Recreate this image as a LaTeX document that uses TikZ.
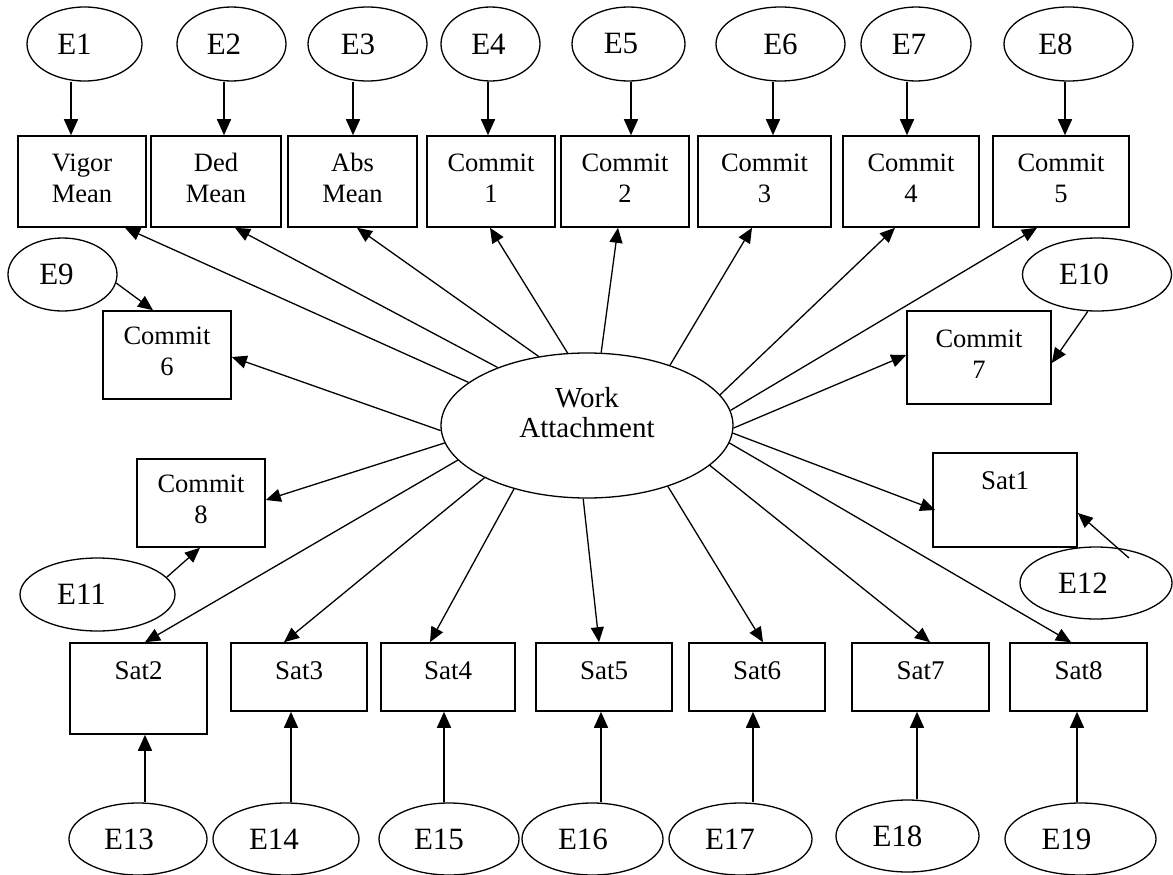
\documentclass[tikz,border=0pt]{standalone}
\usepackage{fontspec}
\setmainfont{Liberation Serif}
\usetikzlibrary{shapes.geometric,arrows.meta}

\begin{document}
\begin{tikzpicture}[x=1pt,y=-1pt,
  box/.style 2 args={draw, rectangle, line width=1.6pt, inner sep=0pt,
    minimum width=#1, minimum height=#2, align=center,
    font=\fontsize{26.5}{31}\selectfont, text height=49pt, text depth=8pt},
  sat/.style 2 args={draw, rectangle, line width=1.6pt, inner sep=0pt,
    minimum width=#1, minimum height=#2,
    font=\fontsize{27}{32}\selectfont, text height=19pt, text depth=15pt},
  err/.style 2 args={draw, ellipse, line width=1.3pt, inner sep=0pt,
    minimum width=#1, minimum height=74pt,
    font=\fontsize{31}{36}\selectfont, execute at begin node={\kern#2}},
  latent/.style={draw, ellipse, line width=1.3pt, inner sep=0pt,
    minimum width=292pt, minimum height=145pt, align=center,
    font=\fontsize{29}{30}\selectfont, text height=50pt, text depth=27pt},
  varr/.style={line width=1.6pt, -{Triangle[length=16pt,width=14pt]}},
  arr/.style={line width=1.3pt, -{Triangle[length=15pt,width=13pt]}}
]
\useasboundingbox (0,0) rectangle (1173,875);

% latent factor
\node[latent] (WA) at (587,425.5) {Work\\Attachment};

% indicators, top row
\node[box={128pt}{91pt}] (vigor) at (82,181.5)   {Vigor\\Mean};
\node[box={130pt}{91pt}] (ded)   at (216,181.5)  {Ded\\Mean};
\node[box={129pt}{91pt}] (abs)   at (352.5,181.5){Abs\\Mean};
\node[box={128pt}{91pt}] (c1)    at (491,181.5)  {Commit\\1};
\node[box={128pt}{91pt}] (c2)    at (625,181.5)  {Commit\\2};
\node[box={133pt}{91pt}] (c3)    at (764.5,181.5){Commit\\3};
\node[box={136pt}{91pt}] (c4)    at (911,181.5)  {Commit\\4};
\node[box={136pt}{91pt}] (c5)    at (1061,181.5) {Commit\\5};

% indicators at the sides
\node[box={128pt}{88pt}] (c6) at (167,355)   {Commit\\6};
\node[box={144pt}{93pt}] (c7) at (979,357.5) {Commit\\7};
\node[box={128pt}{88pt}] (c8) at (201,503)   {Commit\\8};
\node[sat={144pt}{94pt}, text depth=41pt] (sat1) at (1005,500) {Sat1};

% indicators, bottom row
\node[sat={137pt}{91pt}, text depth=38pt] (sat2) at (138.5,688.5) {Sat2};
\node[sat={136pt}{68pt}] (sat3) at (299,677)    {Sat3};
\node[sat={134pt}{68pt}] (sat4) at (448,677)    {Sat4};
\node[sat={136pt}{68pt}] (sat5) at (604,677)    {Sat5};
\node[sat={136pt}{68pt}] (sat6) at (757,677)    {Sat6};
\node[sat={137pt}{68pt}] (sat7) at (920.5,677)  {Sat7};
\node[sat={137pt}{68pt}] (sat8) at (1078.5,677) {Sat8};

% error terms
\node[err={115pt}{-20pt}] (E1) at (84.5,44)  {E1};
\node[err={109pt}{-15pt}] (E2) at (231.5,44) {E2};
\node[err={119pt}{-19pt}] (E3) at (367.5,44) {E3};
\node[err={99pt}{-4pt}]   (E4) at (490.5,44) {E4};
\node[err={113pt}{-15pt}] (E5) at (628.5,44) {E5};
\node[err={129pt}{0pt}]   (E6) at (780.5,44) {E6};
\node[err={110pt}{-14pt}] (E7) at (916,44)   {E7};
\node[err={129pt}{-26pt}] (E8) at (1068.5,44){E8};
\node[err={109pt}{-12pt}, minimum height=73pt] (E9)  at (62.5,274.5) {E9};
\node[err={149pt}{-26pt}, minimum height=73pt] (E10) at (1097,274.5)  {E10};
\node[err={155pt}{-32pt}, minimum height=73pt] (E11) at (97.5,594.5)  {E11};
\node[err={152pt}{-26pt}, minimum height=72pt] (E12) at (1096,583)    {E12};
\node[err={138pt}{-18pt}, minimum height=72pt] (E13) at (138,839)   {E13};
\node[err={146pt}{-24pt}, minimum height=72pt] (E14) at (286,839)   {E14};
\node[err={140pt}{-20pt}, minimum height=72pt] (E15) at (449,839)   {E15};
\node[err={141pt}{-19pt}, minimum height=72pt] (E16) at (592.5,839) {E16};
\node[err={143pt}{-21pt}, minimum height=72pt] (E17) at (740.5,839) {E17};
\node[err={143pt}{-20pt}, minimum height=72pt] (E18) at (907.5,836) {E18};
\node[err={151pt}{-28pt}, minimum height=72pt] (E19) at (1080.5,839){E19};

% error terms into the top row
\foreach \e/\b/\s in {E1/vigor/-11pt, E2/ded/8pt, E3/abs/0.5pt, E4/c1/-3pt,
                      E5/c2/6pt, E6/c3/8.5pt, E7/c4/-4pt, E8/c5/4pt}{
  \coordinate (tip-\b) at ([xshift=\s]\b.north);
  \draw[varr] (\e.south -| tip-\b) -- (tip-\b);
}

% error terms into the bottom row
\foreach \e/\b/\s in {E13/sat2/6.5pt, E14/sat3/-8pt, E15/sat4/-4pt, E16/sat5/-3pt,
                      E17/sat6/-4pt, E18/sat7/-3.5pt, E19/sat8/-1.5pt}{
  \coordinate (tip-\b) at ([xshift=\s]\b.south);
  \draw[varr] (\e.north -| tip-\b) -- (tip-\b);
}

% error terms at the sides
\draw[arr] (E9.-9)  -- ([xshift=-14pt]c6.north);
\draw[arr] (E10.256) -- ([yshift=-5.5pt]c7.east);
\draw[arr] (E11.14) -- ([xshift=-1pt]c8.south);
\draw[arr] ([shift={(33pt,25pt)}]E12.center) -- ([yshift=-13pt]sat1.east);

% loadings of the latent factor
\draw[arr] (WA.160.4) -- ([xshift=43pt]vigor.south);
\draw[arr] (WA.147.1) -- ([xshift=19pt]ded.south);
\draw[arr] (WA.125.3) -- ([xshift=4.5pt]abs.south);
\draw[arr] (WA.105.8) -- ([xshift=-1pt]c1.south);
\draw[arr] (WA.79.1)  -- ([xshift=-7pt]c2.south);
\draw[arr] (WA.36.05) -- ([xshift=-12.5pt]c3.south);
\draw[arr] (WA.13.1)  -- ([xshift=-16pt]c4.south);
\draw[arr] (WA.6.1)   -- ([xshift=-24pt]c5.south);
\draw[arr] (WA.-1)    -- ([yshift=2.5pt]c7.west);
\draw[arr] (WA.-3)    -- ([xshift=3pt,yshift=-10pt]sat1.west);
\draw[arr] (WA.-7.8)  -- ([xshift=-7.5pt]sat8.north);
\draw[arr] (WA.-18.6) -- ([xshift=9.5pt]sat7.north);
\draw[arr] (WA.-37.6) -- ([xshift=6pt]sat6.north);
\draw[arr] (WA.-93.2) -- ([xshift=-5pt]sat5.north);
\draw[arr] (WA.221)   -- ([xshift=-18pt]sat4.north);
\draw[arr] (WA.207.9) -- ([xshift=-15pt]sat3.north);
\draw[arr] (WA.195.8) -- ([xshift=6.5pt]sat2.north);
\draw[arr] (WA.187.7) -- ([yshift=3pt]c8.east);
\draw[arr] (WA.182.9) -- ([yshift=-2pt]c6.east);
\end{tikzpicture}
\end{document}
